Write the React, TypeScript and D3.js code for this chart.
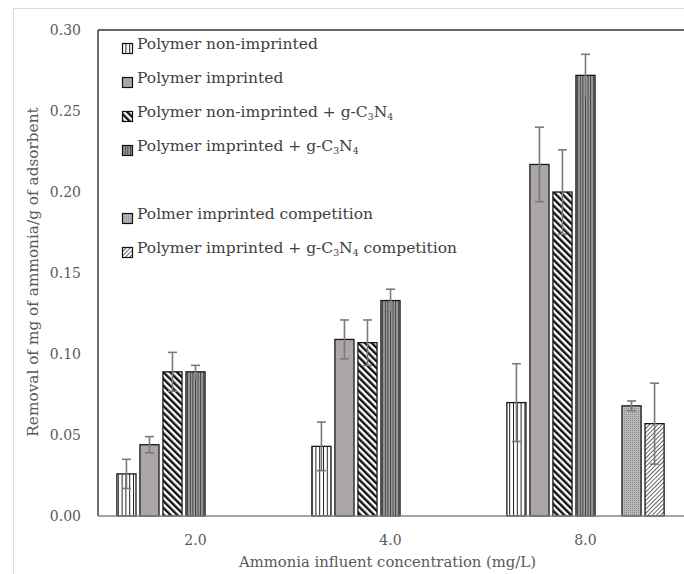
import React from "react";
import * as d3 from "d3";

const categories = ["2.0", "4.0", "8.0"];
const seriesNames = [
  "Polymer non-imprinted",
  "Polymer imprinted",
  "Polymer non-imprinted + g-C3N4",
  "Polymer imprinted + g-C3N4",
  "",
  "Polmer imprinted competition",
  "Polymer imprinted + g-C3N4 competition",
];
const s1 = [0.026, 0.043, 0.070];
const s1err = [0.009, 0.015, 0.024];
const s2 = [0.044, 0.109, 0.217];
const s2err = [0.005, 0.012, 0.023];
const s3 = [0.089, 0.107, 0.200];
const s3err = [0.012, 0.014, 0.026];
const s4 = [0.089, 0.133, 0.272];
const s4err = [0.004, 0.007, 0.013];
const s5: (number | null)[] = [null, null, null];
const s5err: (number | null)[] = [null, null, null];
const s6: (number | null)[] = [null, null, 0.068];
const s6err: (number | null)[] = [null, null, 0.003];
const s7: (number | null)[] = [null, null, 0.057];
const s7err: (number | null)[] = [null, null, 0.025];
const yTicks = [0, 0.05, 0.1, 0.15, 0.2, 0.25, 0.3];

const values = [s1, s2, s3, s4, s5, s6, s7];
const errors = [s1err, s2err, s3err, s4err, s5err, s6err, s7err];
const fills = ["url(#p1)", "url(#p2)", "url(#p3)", "url(#p4)", "none", "url(#p6)", "url(#p7)"];

const W = 684, H = 574;
const left = 98, right = 683, top = 30, bottom = 516;
const FONT = "'DejaVu Serif', serif";

function Label({ text, fs }: { text: string; fs: number }) {
  const parts = text.split(/(\d)/);
  return (
    <>
      {parts.map((p, i) =>
        /^\d$/.test(p) ? (
          <tspan key={i} fontSize={fs * 0.6} dy={fs * 0.2}>{p}</tspan>
        ) : (
          <tspan key={i} dy={i > 0 && /^\d$/.test(parts[i - 1]) ? -fs * 0.2 : 0}>{p}</tspan>
        )
      )}
    </>
  );
}

export default function App() {
  const x0 = d3.scaleBand<string>().domain(categories).range([left, right]).padding(0);
  const x1 = d3
    .scaleBand<number>()
    .domain(d3.range(seriesNames.length))
    .range([0, x0.bandwidth()])
    .paddingInner(0.17)
    .paddingOuter(0.82);
  const y = d3.scaleLinear().domain([0, 0.3]).range([bottom, top]);

  return (
    <svg width={W} height={H} style={{ position: "absolute", left: 0, top: 0, background: "#fff" }}>
      <defs>
        <pattern id="p1" patternUnits="userSpaceOnUse" width={3.8} height={4}>
          <rect width={3.8} height={4} fill="#fff" />
          <rect x={0} width={1} height={4} fill="#222" />
        </pattern>
        <pattern id="p2" patternUnits="userSpaceOnUse" width={4} height={4}>
          <rect width={4} height={4} fill="#aba7a6" />
        </pattern>
        <pattern id="p3" patternUnits="userSpaceOnUse" width={4.8} height={4.8} patternTransform="rotate(-45)">
          <rect width={4.8} height={4.8} fill="#fff" />
          <rect x={0} width={2.4} height={4.8} fill="#111" />
        </pattern>
        <pattern id="p4" patternUnits="userSpaceOnUse" width={2.6} height={4}>
          <rect width={2.6} height={4} fill="#a3a3a3" />
          <rect x={0} width={1} height={4} fill="#3a3a3a" />
        </pattern>
        <pattern id="p6" patternUnits="userSpaceOnUse" width={2} height={2}>
          <rect width={2} height={2} fill="#b8b8b8" />
          <rect x={0} y={0} width={1} height={1} fill="#8c8c8c" />
        </pattern>
        <pattern id="p7" patternUnits="userSpaceOnUse" width={3} height={3} patternTransform="rotate(45)">
          <rect width={3} height={3} fill="#fff" />
          <rect x={0} width={1} height={3} fill="#666" />
        </pattern>
      </defs>

      {/* outer frame */}
      <rect x={13.5} y={8.5} width={W} height={H} fill="none" stroke="#dcdcdc" strokeWidth={1} />

      {/* bars */}
      {values.map((vals, si) =>
        vals.map((v, ci) => {
          if (v == null) return null;
          const bx = x0(categories[ci])! + x1(si)!;
          const bw = x1.bandwidth();
          return (
            <rect
              key={`b${si}-${ci}`}
              x={bx}
              y={y(v)}
              width={bw}
              height={y(0) - y(v)}
              fill={fills[si]}
              stroke="#1a1a1a"
              strokeWidth={1.3}
            />
          );
        })
      )}

      {/* error bars */}
      {values.map((vals, si) =>
        vals.map((v, ci) => {
          const e = errors[si][ci];
          if (v == null || e == null) return null;
          const cx = x0(categories[ci])! + x1(si)! + x1.bandwidth() / 2;
          const y1 = y(v + e), y2 = y(v - e);
          return (
            <g key={`e${si}-${ci}`} stroke="#7a7a7a" strokeWidth={1.6}>
              <line x1={cx} x2={cx} y1={y1} y2={y2} />
              <line x1={cx - 4.5} x2={cx + 4.5} y1={y1} y2={y1} />
              <line x1={cx - 4.5} x2={cx + 4.5} y1={y2} y2={y2} />
            </g>
          );
        })
      )}

      {/* plot box */}
      <line x1={left} x2={W} y1={top} y2={top} stroke="#333" strokeWidth={1.4} />
      <line x1={left} x2={left} y1={top} y2={bottom} stroke="#333" strokeWidth={1.4} />
      <line x1={left} x2={W} y1={bottom} y2={bottom} stroke="#858585" strokeWidth={1.5} />

      {/* y ticks */}
      {yTicks.map((t) => (
        <text
          key={t}
          x={81}
          y={y(t)}
          dy="0.35em"
          textAnchor="end"
          fontFamily={FONT}
          fontSize={14}
          fill="#595959"
        >
          {t.toFixed(2)}
        </text>
      ))}

      {/* x ticks */}
      {categories.map((c) => (
        <text
          key={c}
          x={x0(c)! + x0.bandwidth() / 2}
          y={540}
          dy="0.35em"
          textAnchor="middle"
          fontFamily={FONT}
          fontSize={14}
          fill="#595959"
        >
          {c}
        </text>
      ))}

      {/* axis titles */}
      <text
        x={(left + right) / 2 - 3}
        y={562}
        dy="0.35em"
        textAnchor="middle"
        fontFamily={FONT}
        fontSize={14.8}
        fill="#595959"
      >
        Ammonia influent concentration (mg/L)
      </text>
      <text
        transform={`translate(33,${272}) rotate(-90)`}
        textAnchor="middle"
        dy="0.35em"
        fontFamily={FONT}
        fontSize={15.3}
        fill="#595959"
      >
        Removal of mg of ammonia/g of adsorbent
      </text>

      {/* legend */}
      {seriesNames.map((name, i) => {
        if (!name) return null;
        const ly = 48.5 + i * 34;
        return (
          <g key={`l${i}`}>
            <rect x={122.5} y={ly - 5} width={10} height={10} fill={fills[i]} stroke="#111" strokeWidth={1.2} />
            <text x={137} y={ly} dy="0.35em" fontFamily={FONT} fontSize={15.5} fill="#404040">
              <Label text={name} fs={15.5} />
            </text>
          </g>
        );
      })}
    </svg>
  );
}
